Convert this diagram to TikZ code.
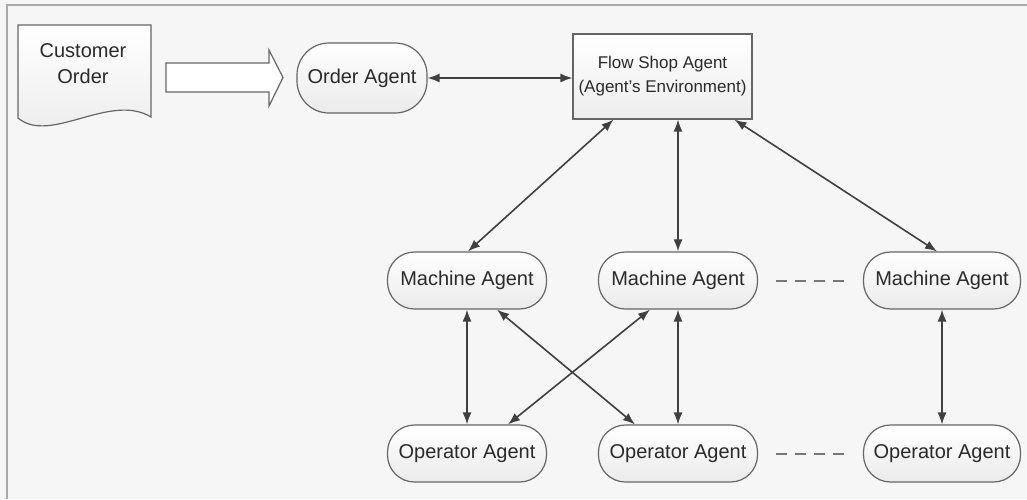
\documentclass[tikz,border=0pt]{standalone}
\usepackage{fontspec}
\setmainfont{Liberation Sans}
\usetikzlibrary{arrows.meta}
\definecolor{bgc}{HTML}{F6F6F6}
\definecolor{framec}{HTML}{AAAAAA}
\definecolor{edgec}{HTML}{666666}
\definecolor{txtc}{HTML}{2A2A2A}
\definecolor{arrc}{HTML}{404040}
\definecolor{dashc}{HTML}{777777}
\tikzset{
  agent/.style={draw=edgec, line width=1.2pt, rectangle, rounded corners=27pt,
    top color=white, bottom color=black!8, minimum width=159pt, minimum height=57pt,
    inner sep=0pt, text=txtc, font=\fontsize{20}{24}\selectfont},
  envbox/.style={draw=edgec, line width=1.2pt, rectangle, top color=white, bottom color=black!7,
    minimum width=179pt, minimum height=85pt, inner sep=0pt, text=txtc, align=center,
    font=\fontsize{17}{24}\selectfont},
  plain/.style={text=txtc, align=center, font=\fontsize{20}{26}\selectfont, inner sep=0pt},
  link/.style={draw=arrc, line width=1.6pt, {Latex[length=12pt,width=9pt]}-{Latex[length=12pt,width=9pt]}},
  etc/.style={draw=dashc, line width=2pt, dash pattern=on 11pt off 8pt, shorten <=18pt, shorten >=18pt},
  shapeline/.style={draw=edgec, line width=1.2pt, fill=white}
}
\begin{document}
\begin{tikzpicture}[x=1pt,y=-1pt]
\useasboundingbox (0,0) rectangle (1027,499);
\fill[bgc] (0,0) rectangle (1027,499);
\draw[framec, line width=2pt] (7,499) -- (7,5) -- (1027,5);
% customer order document
\draw[shapeline, top color=white, bottom color=black!8] (18,25) -- (151,25) -- (151,117)
  .. controls (110,92) and (50,145) .. (18,118) -- cycle;
\node[plain] (cust) at (83,64) {Customer\\Order};
% block arrow
\draw[shapeline] (166,63) -- (269,63) -- (269,50) -- (283,77.5) -- (269,106) -- (269,92) -- (166,92) -- cycle;
% nodes
\node[agent, minimum width=130pt, minimum height=70pt, rounded corners=32pt] (oa) at (362,78) {Order Agent};
\node[envbox] (fs) at (662.5,76.5) {Flow Shop Agent\\(Agent’s Environment)};
\node[agent] (m1) at (467,280.5) {Machine Agent};
\node[agent] (m2) at (678,280.5) {Machine Agent};
\node[agent, minimum width=157pt] (m3) at (942,280.5) {Machine Agent};
\node[agent] (o1) at (467,453.5) {Operator Agent};
\node[agent] (o2) at (678,453.5) {Operator Agent};
\node[agent, minimum width=157pt] (o3) at (942,453.5) {Operator Agent};
% connectors
\draw[link] (oa.east) -- (oa.east -| fs.west);
\draw[link] ([xshift=-49pt]fs.south) -- ([xshift=1pt]m1.north);
\draw[link] ([xshift=15.5pt]fs.south) -- (m2.north);
\draw[link] ([xshift=72pt]fs.south) -- ([xshift=-5pt]m3.north);
\draw[link] (m1.south) -- (o1.north);
\draw[link] (m2.south) -- (o2.north);
\draw[link] (m3.south) -- (o3.north);
\draw[link] ([xshift=30pt]m1.south) -- ([xshift=-43pt]o2.north);
\draw[link] ([xshift=-28pt]m2.south) -- ([xshift=41pt]o1.north);
\draw[etc] (m2.east) -- (m3.west);
\draw[etc] (o2.east) -- (o3.west);
\end{tikzpicture}
\end{document}
